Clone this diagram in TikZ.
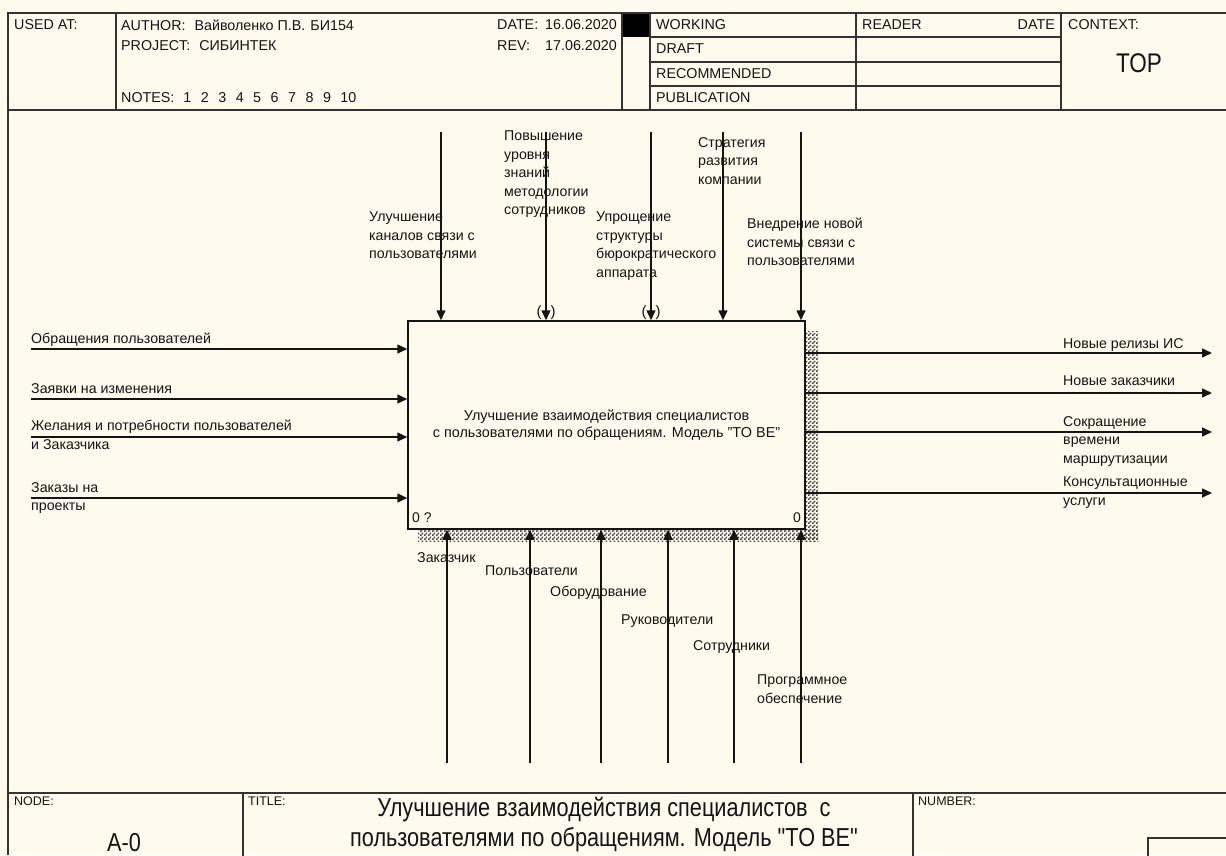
\documentclass[tikz,border=0pt]{standalone}
\usepackage{fontspec}
\setmainfont{Liberation Sans}
\newfontfamily\narrowfont[FakeStretch=0.835]{Liberation Sans}
\usetikzlibrary{arrows.meta,patterns}
\definecolor{paper}{HTML}{FFF9EE}
\definecolor{ink}{HTML}{141414}
\pgfdeclarepatternformonly{idefhatch}{\pgfqpoint{0pt}{0pt}}{\pgfqpoint{4pt}{4pt}}{\pgfqpoint{4pt}{4pt}}{%
  \pgfpathrectangle{\pgfqpoint{0pt}{0pt}}{\pgfqpoint{2pt}{2pt}}%
  \pgfpathrectangle{\pgfqpoint{2pt}{2pt}}{\pgfqpoint{2pt}{2pt}}%
  \pgfusepath{fill}}
\begin{document}
\begin{tikzpicture}[x=1pt,y=-1pt,
  frame/.style={draw=black!80, line width=1.6pt},
  arr/.style={draw=ink, line width=1.5pt, -{Triangle[length=10pt,width=9pt]}},
  lbl/.style={font=\fontsize{14.2}{18.5}\selectfont, inner sep=0pt, anchor=north west, align=left, text=ink},
  hdr/.style={font=\fontsize{14.3}{16}\selectfont, inner sep=0pt, anchor=west, text=ink},
  small/.style={font=\fontsize{12.5}{14}\selectfont, inner sep=0pt, anchor=west, text=ink},
  big/.style={font=\narrowfont\fontsize{26}{30}\selectfont, inner sep=0pt, text=ink, align=center},
  tunnel/.style={font=\fontsize{15}{15}\selectfont, inner sep=0pt, text=ink},
  shadow/.style={pattern=idefhatch, pattern color=black!75}
]
% background and bounds
\fill[paper] (0,0) rectangle (1226,855);
\useasboundingbox (0,0) rectangle (1226,855);

% ---------- header frame ----------
\fill[black] (622,13) rectangle (650,37);
\draw[frame] (8,855) -- (8,13) -- (1230,13);
\draw[frame] (8,110) -- (1230,110);
\draw[frame] (116,13) -- (116,110);
\draw[frame] (622,13) -- (622,110);
\draw[frame] (650,13) -- (650,110);
\draw[frame] (856,13) -- (856,110);
\draw[frame] (1061,13) -- (1061,110);
\draw[frame] (650,37) -- (1061,37);
\draw[frame] (650,62) -- (1061,62);
\draw[frame] (650,86) -- (1061,86);

\node[hdr] (usedat) at (14,25) {USED AT:};
\node[hdr] (author) at (121,25) {AUTHOR:\hspace{9pt}Вайволенко П.В.\hspace{5pt}БИ154};
\node[hdr] (project) at (121,46) {PROJECT:\hspace{9pt}СИБИНТЕК};
\node[hdr] (notes) at (121,98) {NOTES:\hspace{9pt}1\hspace{9.5pt}2\hspace{9.5pt}3\hspace{9.5pt}4\hspace{9.5pt}5\hspace{9.5pt}6\hspace{9.5pt}7\hspace{9.5pt}8\hspace{9.5pt}9\hspace{9.5pt}10};
\node[hdr] (date) at (497,25) {\makebox[48pt][l]{DATE:}16.06.2020};
\node[hdr] (rev) at (497,46) {\makebox[48pt][l]{REV:}17.06.2020};
\node[hdr] (working) at (656,25) {WORKING};
\node[hdr] (draft) at (656,49) {DRAFT};
\node[hdr] (recommended) at (656,74) {RECOMMENDED};
\node[hdr] (publication) at (656,98) {PUBLICATION};
\node[hdr] (reader) at (862,25) {READER};
\node[hdr, anchor=east] (rdate) at (1055,25) {DATE};
\node[hdr] (context) at (1068,25) {CONTEXT:};
\node[big, font=\narrowfont\fontsize{27}{30}\selectfont] (top) at (1139,63) {TOP};

% ---------- footer frame ----------
\draw[frame] (8,793) -- (1230,793);
\draw[frame] (243,793) -- (243,860);
\draw[frame] (913,793) -- (913,860);
\draw[frame] (1148,860) -- (1148,838) -- (1230,838);
\node[small] (nodelbl) at (14,801) {NODE:};
\node[small] (titlelbl) at (248,801) {TITLE:};
\node[small] (numberlbl) at (918,801) {NUMBER:};
\node[big] (nodeval) at (124,843) {A-0};
\node[big] (titleval) at (604,825) {Улучшение взаимодействия специалистов\ \ с\\пользователями по обращениям. Модель "TO BE"};

% ---------- activity box ----------
\fill[shadow] (805,331) rectangle (818,541);
\fill[shadow] (418,529) rectangle (818,541);
\node[draw=ink, fill=paper, line width=1.5pt, minimum width=397pt, minimum height=208pt, inner sep=0pt,
      font=\fontsize{14.4}{17.5}\selectfont, align=center, text=ink] (A0) at (606.5,425)
  {Улучшение взаимодействия специалистов\\с пользователями по обращениям. Модель "TO BE"};
\node[small, font=\fontsize{14}{16}\selectfont] (num0q) at (412,518) {0 ?};
\node[small, font=\fontsize{14}{16}\selectfont, anchor=east] (num0) at (801,518) {0};

% ---------- controls ----------
\coordinate (c1) at (441,132);
\coordinate (c2) at (546,132);
\coordinate (c3) at (651,132);
\coordinate (c4) at (723,132);
\coordinate (c5) at (801,132);
\foreach \c in {c1,c2,c3,c4,c5} \draw[arr] (\c) -- (\c |- A0.north);
\node[tunnel] (tun1) at (546,313) {(\hspace{9pt})};
\node[tunnel] (tun2) at (651,313) {(\hspace{9pt})};

\node[lbl] (lc1) at (369,212) {Улучшение\\каналов связи с\\пользователями};
\node[lbl] (lc2) at (504,131) {Повышение\\уровня\\знаний\\методологии\\сотрудников};
\node[lbl] (lc3) at (596,212) {Упрощение\\структуры\\бюрократического\\аппарата};
\node[lbl] (lc4) at (698,137) {Стратегия\\развития\\компании};
\node[lbl] (lc5) at (747,218) {Внедрение новой\\системы связи с\\пользователями};

% ---------- inputs ----------
\coordinate (i1) at (31,349);
\coordinate (i2) at (31,399);
\coordinate (i3) at (31,437);
\coordinate (i4) at (31,498);
\foreach \i in {i1,i2,i3,i4} \draw[arr] (\i) -- (\i -| A0.west);
\node[lbl] (li1) at (31,333) {Обращения пользователей};
\node[lbl] (li2) at (31,383) {Заявки на изменения};
\node[lbl] (li3) at (31,420) {Желания и потребности пользователей\\и Заказчика};
\node[lbl] (li4) at (31,482) {Заказы на\\проекты};

% ---------- outputs ----------
\coordinate (o1) at (1212,353);
\coordinate (o2) at (1212,393);
\coordinate (o3) at (1212,432);
\coordinate (o4) at (1212,493);
\foreach \o in {o1,o2,o3,o4} \draw[arr] (\o -| A0.east) -- (\o);
\node[lbl] (lo1) at (1063,338) {Новые релизы ИС};
\node[lbl] (lo2) at (1063,376) {Новые заказчики};
\node[lbl] (lo3) at (1063,416) {Сокращение\\времени\\маршрутизации};
\node[lbl] (lo4) at (1063,477) {Консультационные\\услуги};

% ---------- mechanisms ----------
\coordinate (m1) at (447,763);
\coordinate (m2) at (530,763);
\coordinate (m3) at (601,763);
\coordinate (m4) at (668,763);
\coordinate (m5) at (734,763);
\coordinate (m6) at (801,763);
\foreach \m in {m1,m2,m3,m4,m5,m6} \draw[arr] (\m) -- (\m |- A0.south);
\node[lbl] (lm1) at (417,552) {Заказчик};
\node[lbl] (lm2) at (485,566) {Пользователи};
\node[lbl] (lm3) at (550,586) {Оборудование};
\node[lbl] (lm4) at (621,615) {Руководители};
\node[lbl] (lm5) at (693,640) {Сотрудники};
\node[lbl] (lm6) at (757,675) {Программное\\обеспечение};
\end{tikzpicture}
\end{document}
